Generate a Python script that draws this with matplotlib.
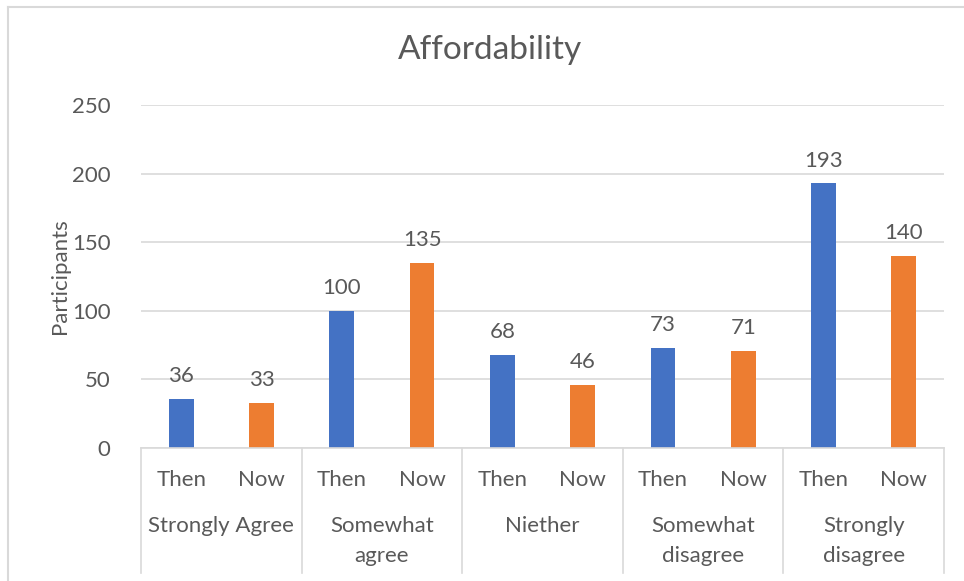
import matplotlib
matplotlib.use("Agg")
import matplotlib.pyplot as plt
from matplotlib.lines import Line2D

# Survey responses on affordability, before ("Then") and after ("Now")
groups = ["Strongly Agree", "Somewhat\nagree", "Niether", "Somewhat\ndisagree", "Strongly\ndisagree"]
periods = ["Then", "Now"]
then_values = [36, 100, 68, 73, 193]
now_values = [33, 135, 46, 71, 140]
y_ticks = [0, 50, 100, 150, 200, 250]

BLUE = "#4472C4"
ORANGE = "#ED7D31"
TEXT = "#595959"
GRID = "#D9D9D9"
FS = 16

plt.rcParams["font.family"] = ["Lato", "DejaVu Sans"]

W, H = 964, 581
fig = plt.figure(figsize=(W / 100, H / 100), dpi=100)

# plot area in pixel coordinates
x0, x1 = 141, 944
y_top, y_bot = 105, 448
ax = fig.add_axes([x0 / W, (H - y_bot) / H, (x1 - x0) / W, (y_bot - y_top) / H])

n = len(groups)
then_pos = [2 * i for i in range(n)]
now_pos = [2 * i + 1 for i in range(n)]
bw = 0.31

b1 = ax.bar(then_pos, then_values, width=bw, color=BLUE, zorder=3)
b2 = ax.bar(now_pos, now_values, width=bw, color=ORANGE, zorder=3)

for bars, vals in ((b1, then_values), (b2, now_values)):
    for rect, v in zip(bars, vals):
        ax.annotate(str(v), (rect.get_x() + rect.get_width() / 2, v),
                    xytext=(0, 9), textcoords="offset points",
                    ha="center", va="bottom", fontsize=FS, color=TEXT)

ax.set_xlim(-0.5, 2 * n - 0.5)
ax.set_ylim(0, 250)
ax.set_yticks(y_ticks)
ax.set_yticklabels([str(t) for t in y_ticks])
ax.tick_params(axis="y", length=0, pad=22, labelsize=FS, labelcolor=TEXT)
ax.set_xticks([])
ax.grid(axis="y", color=GRID, linewidth=1.2, zorder=0)
for s in ("top", "right", "left"):
    ax.spines[s].set_visible(False)
ax.spines["bottom"].set_color(GRID)
ax.spines["bottom"].set_linewidth(1.2)
ax.spines["bottom"].set_zorder(4)

ax.set_ylabel("Participants", fontsize=FS, color=TEXT)
ax.yaxis.set_label_coords((70 - x0) / (x1 - x0), 0.5)

# two-level category axis
to_axes_y = lambda py: (H - py - (H - y_bot)) / (y_bot - y_top)
trans = ax.get_xaxis_transform()
for i in range(n):
    for j, p in enumerate(periods):
        ax.text(2 * i + j, to_axes_y(480), p, transform=trans, ha="center",
                va="center", fontsize=FS, color=TEXT, clip_on=False)
    ax.text(2 * i + 0.5, to_axes_y(516), groups[i], transform=trans, ha="center",
            va="top", fontsize=FS, color=TEXT, linespacing=1.6, clip_on=False)

for k in range(n + 1):
    xs = 2 * k - 0.5
    ax.add_line(Line2D([xs, xs], [0, to_axes_y(573)], transform=trans,
                       color=GRID, linewidth=1.2, clip_on=False))

fig.text(490 / W, 1 - 50 / H, "Affordability", fontsize=24, color=TEXT,
         ha="center", va="center")

# chart frame
fig.add_artist(Line2D([7.5 / W, 7.5 / W], [0, 1 - 7 / H], color=GRID, linewidth=1.5))
fig.add_artist(Line2D([7.5 / W, 1], [1 - 7 / H, 1 - 7 / H], color=GRID, linewidth=1.5))

fig.savefig("out.png", dpi=100, facecolor="white")
